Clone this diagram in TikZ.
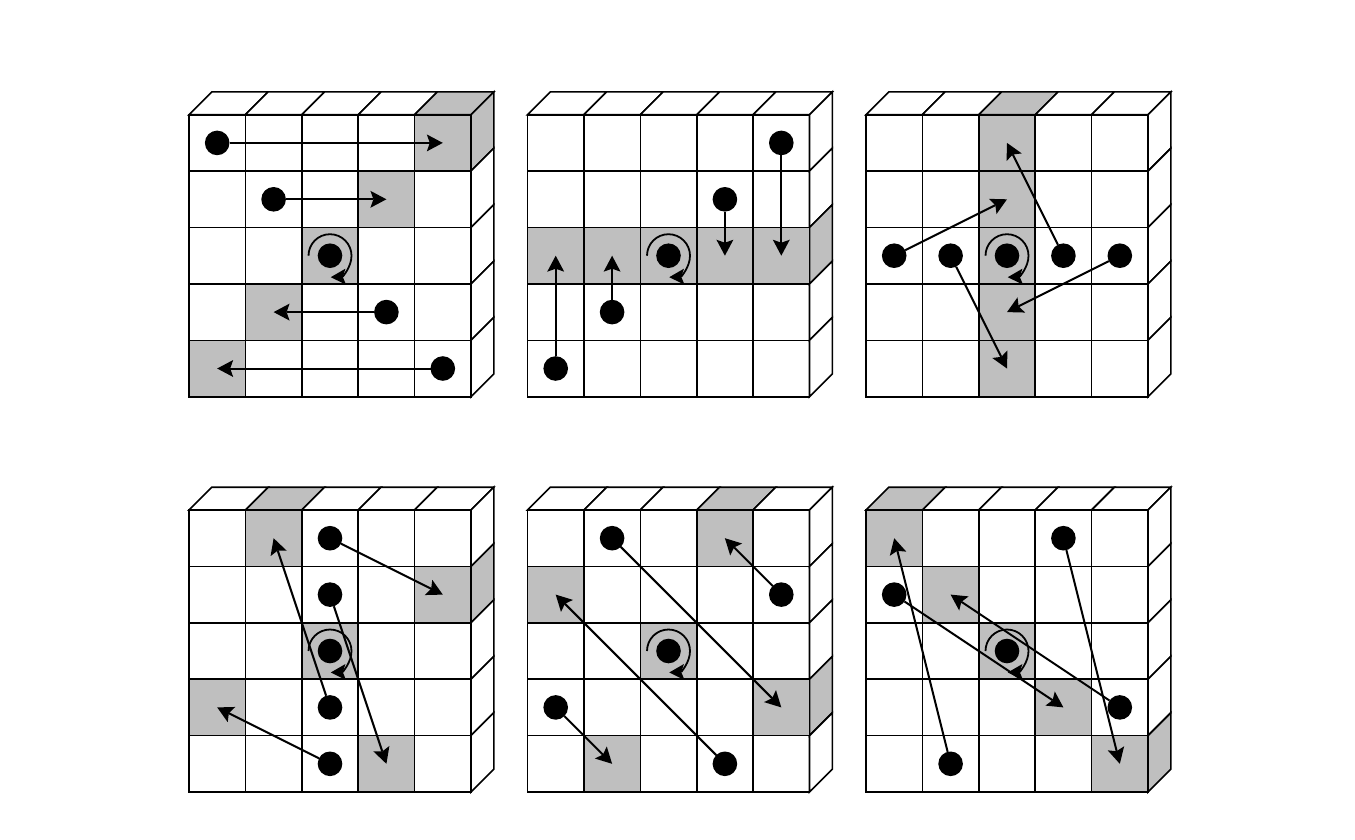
\documentclass[tikz,border=0pt]{standalone}
\usetikzlibrary{arrows.meta}
\tikzset{
  x=1pt,y=-1pt,
  every path/.style={line width=1.6pt,line join=miter},
  cell/.style={draw=black,line width=1.6pt,rectangle,minimum size=56.4pt,inner sep=0pt,outer sep=0pt},
  greycell/.style={cell,fill=shade},
  dot/.style={circle,fill=black,draw=none,minimum size=24.6pt,inner sep=0pt,outer sep=0pt},
  face/.style={draw=black,fill=white},
  greyface/.style={draw=black,fill=shade},
  move/.style={line width=2pt,-{Stealth[length=16pt,width=17pt,inset=3pt,line width=0pt]}},
  spin/.style={line width=1.8pt,-{Stealth[length=15pt,width=16pt,inset=3pt,line width=0pt]}},
}
\definecolor{shade}{gray}{0.75}
% #1 id, #2 x, #3 y, #4 top grey col, #5 side grey row, #6 grey cells, #7 moves
\newcommand{\cubepanel}[7]{
  \def\s{56.4}\def\dd{22.8}
  \foreach \c in {0,...,4}{
    \pgfmathsetmacro{\fx}{#2+\s*\c}
    \pgfmathtruncatemacro{\isg}{\c==#4 ? 1 : 0}
    \ifnum\isg=1 \def\fs{greyface}\else\def\fs{face}\fi
    \draw[style=\fs] (\fx,#3) -- ++(\dd,-\dd) -- ++(\s,0) -- ++(-\dd,\dd) -- cycle;
  }
  \foreach \r in {0,...,4}{
    \pgfmathsetmacro{\fx}{#2+5*\s}
    \pgfmathsetmacro{\fy}{#3+\s*\r}
    \pgfmathtruncatemacro{\isg}{\r==#5 ? 1 : 0}
    \ifnum\isg=1 \def\fs{greyface}\else\def\fs{face}\fi
    \draw[style=\fs] (\fx,\fy) -- ++(\dd,-\dd) -- ++(0,\s) -- ++(-\dd,\dd) -- cycle;
  }
  \foreach \c in {0,...,4}\foreach \r in {0,...,4}{
    \node[cell] (#1c\c r\r) at ({#2+\s*(\c+.5)},{#3+\s*(\r+.5)}) {};
  }
  \foreach \c/\r in {#6}{
    \node[greycell] (#1c\c r\r) at ({#2+\s*(\c+.5)},{#3+\s*(\r+.5)}) {};
  }
  \node[dot] (#1mid) at (#1c2r2.center) {};
  \draw[spin] ([xshift=-21.5pt]#1mid.center) arc[start angle=180,end angle=-88,radius=21.5pt];
  \foreach \a/\b/\e/\f in {#7}{
    \node[dot] (#1d\a r\b) at (#1c\a r\b.center) {};
    \draw[move] (#1d\a r\b) -- (#1c\e r\f.center);
  }
}
\begin{document}
\begin{tikzpicture}
\useasboundingbox[fill=white] (0,0) rectangle (1355,839);
\cubepanel{a}{189}{114.7}{4}{0}{4/0,3/1,2/2,1/3,0/4}{0/0/4/0,1/1/3/1,3/3/1/3,4/4/0/4}
\cubepanel{b}{527.5}{114.7}{9}{2}{0/2,1/2,2/2,3/2,4/2}{4/0/4/2,3/1/3/2,1/3/1/2,0/4/0/2}
\cubepanel{c}{866}{114.7}{2}{9}{2/0,2/1,2/2,2/3,2/4}{0/2/2/1,1/2/2/4,3/2/2/0,4/2/2/3}
\cubepanel{d}{189}{510}{1}{1}{1/0,4/1,2/2,0/3,3/4}{2/0/4/1,2/1/3/4,2/3/1/0,2/4/0/3}
\cubepanel{e}{527.5}{510}{3}{3}{3/0,0/1,2/2,4/3,1/4}{1/0/4/3,4/1/3/0,0/3/1/4,3/4/0/1}
\cubepanel{f}{866}{510}{0}{4}{0/0,1/1,2/2,3/3,4/4}{3/0/4/4,0/1/3/3,4/3/1/1,1/4/0/0}
\end{tikzpicture}
\end{document}
